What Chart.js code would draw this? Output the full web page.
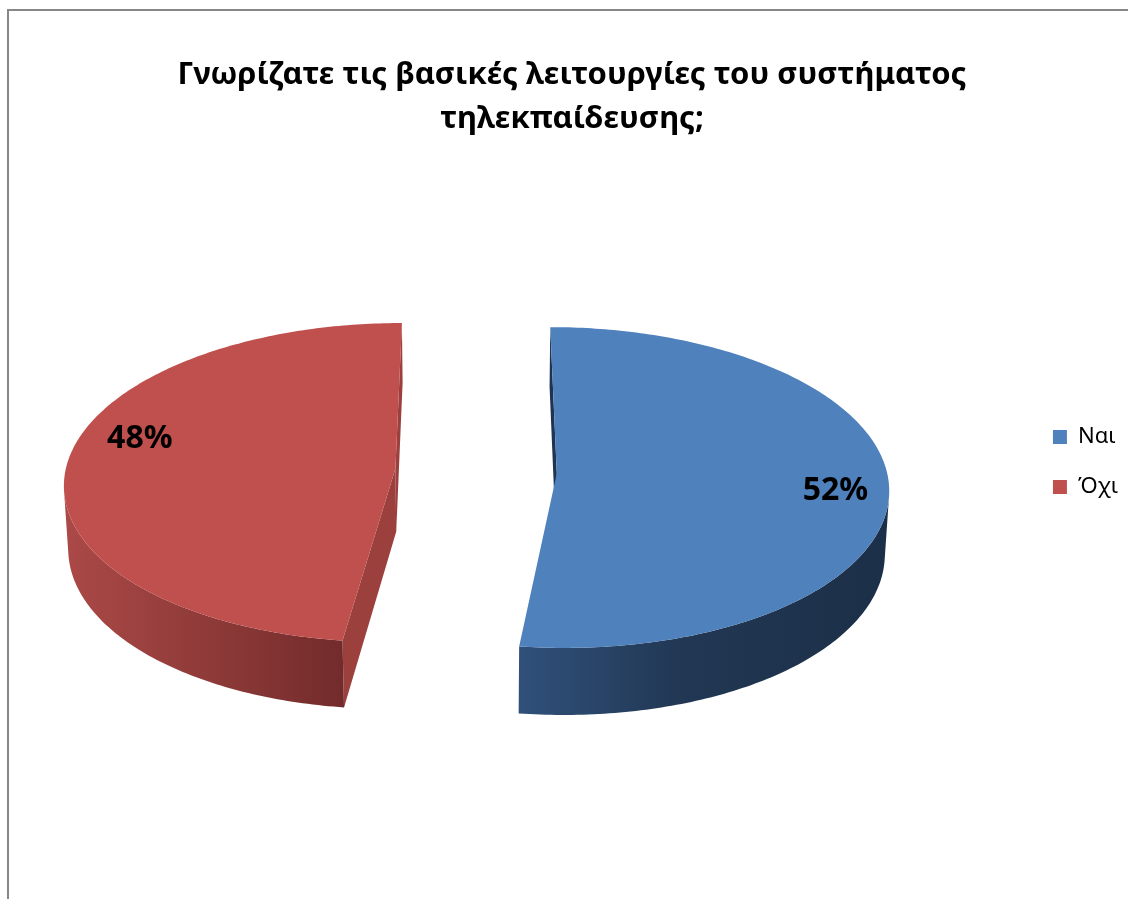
<!DOCTYPE html>
<html>
<head>
<meta charset="utf-8">
<title>Λειτουργίες συστήματος τηλεκπαίδευσης</title>
<script src="https://cdn.jsdelivr.net/npm/chart.js@4.4.0/dist/chart.umd.min.js"></script>
<style>
  html, body { margin: 0; padding: 0; background: #fff; overflow: hidden; }
  #frame {
    position: absolute; left: 7px; top: 9px; width: 1300px; height: 1000px;
    border-left: 2px solid #878787; border-top: 2px solid #878787;
  }
  #wrap { position: absolute; left: 0; top: 0; width: 1128px; height: 899px; }
</style>
</head>
<body>
<div id="frame"></div>
<div id="wrap"><canvas id="chart"></canvas></div>
<script>
const answers = ["Ναι", "Όχι"];
const percentages = [52, 48];
const titleLines = [
  "Γνωρίζατε τις βασικές λειτουργίες του συστήματος",
  "τηλεκπαίδευσης;",
];
const sliceColors = ["#4F81BD", "#C0504D"];

// 3D look of the pie: camera, slab thickness, explosion and shading
const view = {
  cx: 476,
  cy: 471,
  radius: 330,
  distance: 10,
  tilt: Math.asin(0.481),
  thickness: 0.22,
  explode: 0.245,
};
const wallStops = [
  [[0, "#30507A"], [0.45, "#213753"], [1, "#1C2F48"]],
  [[0, "#AB4947"], [0.5, "#8F3B39"], [1, "#722B2B"]],
];
const cutColors = ["#1E3452", "#9C403E"];
const labelSpots = [
  { r: 0.84, turn: 3.9 },
  { r: 0.815, turn: 9.9 },
];

const pie3d = {
  id: "pie3d",
  beforeDatasetsDraw(chart) {
    const ctx = chart.ctx;
    const arcs = chart.getDatasetMeta(0).data;
    const sinA = Math.sin(view.tilt);
    const cosA = Math.cos(view.tilt);
    const camZ = view.distance * cosA;
    const h = -view.thickness;

    const project = (X, Y, Z) => {
      const depth = view.distance - Y * sinA - Z * cosA;
      const s = (view.radius * view.distance) / depth;
      return {
        x: view.cx + X * s,
        y: view.cy - (Y * cosA - Z * sinA) * s,
      };
    };
    const fillPoly = (pts, fill) => {
      ctx.beginPath();
      pts.forEach((p, k) => (k ? ctx.lineTo(p.x, p.y) : ctx.moveTo(p.x, p.y)));
      ctx.closePath();
      ctx.fillStyle = fill;
      ctx.fill();
    };

    ctx.save();
    const labels = [];
    arcs.forEach((arc, i) => {
      const { startAngle: a0, endAngle: a1 } = arc.getProps(
        ["startAngle", "endAngle"],
        true
      );
      const mid = (a0 + a1) / 2;
      const ox = view.explode * Math.cos(mid);
      const oz = view.explode * Math.sin(mid);
      const rim = (t, y) => project(ox + Math.cos(t), y, oz + Math.sin(t));
      const hub = (y) => project(ox, y, oz);

      const steps = Math.max(8, Math.ceil((a1 - a0) / 0.015));
      const angles = [];
      for (let k = 0; k <= steps; k++) angles.push(a0 + ((a1 - a0) * k) / steps);

      // flat cut faces, only the ones turned towards the camera
      [
        [a0, Math.sin(a0), -Math.cos(a0)],
        [a1, -Math.sin(a1), Math.cos(a1)],
      ].forEach(([t, nx, nz]) => {
        if (nx * -ox + nz * (camZ - oz) <= 0) return;
        fillPoly([hub(0), rim(t, 0), rim(t, h), hub(h)], cutColors[i]);
      });

      // curved outer wall
      const runs = [];
      let run = [];
      angles.forEach((t) => {
        const px = ox + Math.cos(t);
        const pz = oz + Math.sin(t);
        const seen = Math.cos(t) * -px + Math.sin(t) * (camZ - pz) > 0;
        if (seen) run.push(t);
        else if (run.length) {
          runs.push(run);
          run = [];
        }
      });
      if (run.length) runs.push(run);
      runs.forEach((r) => {
        if (r.length < 2) return;
        const pts = r.map((t) => rim(t, 0)).concat(r.map((t) => rim(t, h)).reverse());
        const xs = pts.map((p) => p.x);
        const g = ctx.createLinearGradient(Math.min(...xs), 0, Math.max(...xs), 0);
        wallStops[i].forEach(([o, c]) => g.addColorStop(o, c));
        fillPoly(pts, g);
      });

      // top face
      fillPoly([hub(0)].concat(angles.map((t) => rim(t, 0))), arc.options.backgroundColor);

      const spot = labelSpots[i];
      const la = mid + (spot.turn * Math.PI) / 180;
      labels.push({
        pos: project(ox + spot.r * Math.cos(la), 0, oz + spot.r * Math.sin(la)),
        text: chart.data.datasets[0].data[i] + "%",
      });
    });

    ctx.fillStyle = "#000";
    ctx.font = "bold 32px 'Noto Sans'";
    ctx.textAlign = "center";
    ctx.textBaseline = "middle";
    labels.forEach((l) => ctx.fillText(l.text, l.pos.x, l.pos.y));
    ctx.restore();
    return false;
  },
};

new Chart(document.getElementById("chart"), {
  type: "pie",
  data: {
    labels: answers,
    datasets: [
      {
        data: percentages,
        backgroundColor: sliceColors,
        borderWidth: 0,
      },
    ],
  },
  options: {
    responsive: true,
    maintainAspectRatio: false,
    animation: false,
    layout: { padding: { left: 16, top: 0, right: 0, bottom: 134 } },
    plugins: {
      title: {
        display: true,
        text: titleLines,
        color: "#000",
        font: { family: "'Noto Sans'", size: 31, weight: "bold", lineHeight: "44px" },
        padding: { top: 53, bottom: 18 },
      },
      legend: {
        position: "right",
        fullSize: false,
        maxWidth: 104,
        labels: {
          boxWidth: 14,
          boxHeight: 14,
          padding: 28,
          color: "#000",
          font: { family: "'Noto Sans'", size: 22 },
        },
      },
      tooltip: { enabled: false },
    },
  },
  plugins: [pie3d],
});
</script>
</body>
</html>
